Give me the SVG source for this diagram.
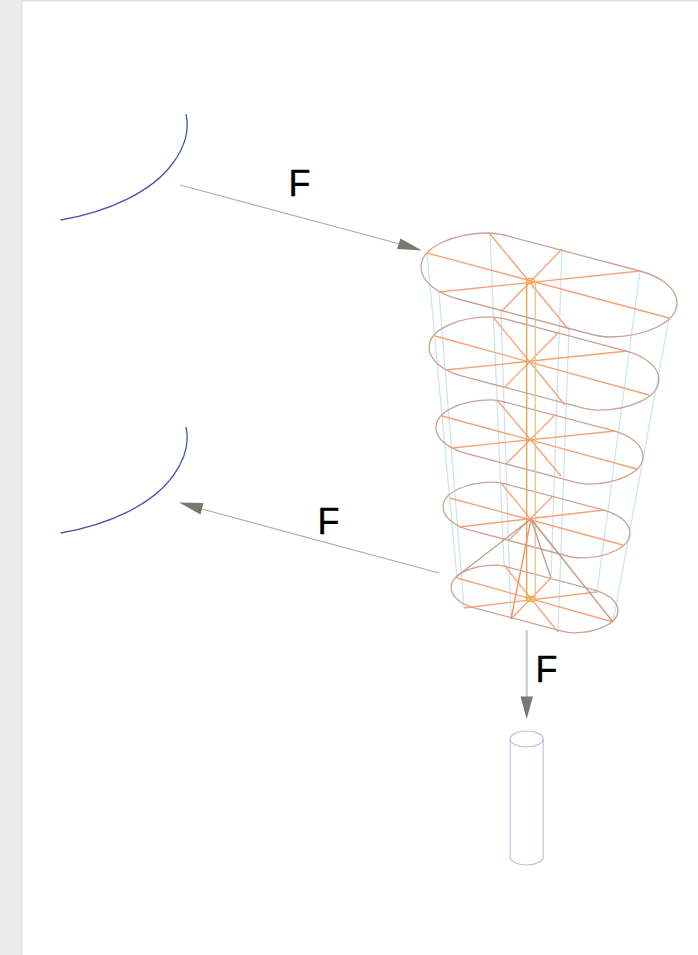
<svg xmlns="http://www.w3.org/2000/svg" width="698" height="955" viewBox="0 0 698 955">
<style>
.outline{fill:none;stroke:#c9a398;stroke-width:1.300;vector-effect:non-scaling-stroke}
.spoke{fill:none;stroke:#f7a274;stroke-width:1.300}
.strut{fill:none;stroke:#cfe5e9;stroke-width:1.300}
.pyr{fill:none;stroke:#c39a8e;stroke-width:1.300}
.post{fill:none;stroke-width:1.300}
.wire{fill:none;stroke:#4a55b0;stroke-width:1.300}
.cyl{fill:none;stroke:#c3bfe8;stroke-width:1.200}
.conn{fill:none;stroke:#adadad;stroke-width:1.200}
.head{fill:#77796e}
.lbl{font-family:"Liberation Sans",Arial,sans-serif;font-size:36px;fill:#000;stroke:#000;stroke-width:.4}
</style>
<defs>
<path id="stadium" class="outline" d="M-45,-50 L91,-14 C113,-8 128,4 128,18 C128,38 95,52 60,52 C55,52 50,51 45,50 L-91,14 C-113,8 -128,-4 -128,-18 C-128,-38 -95,-52 -60,-52 C-55,-52 -50,-51 -45,-50 Z"/>
<path id="arc" class="wire" d="M186,114 C190,132 184,148 173,163 C152,192 108,212 60.500,220"/>
</defs>
<g id="background">
<rect width="698" height="955" fill="#fff"/>
<rect width="21" height="955" fill="#ebebeb"/>
<rect x="21" width="1.500" height="955" fill="#dedede"/>
<rect x="21" width="677" height="1.500" fill="#e2e2e2"/>
</g>
<g id="struts">
<path class="strut" d="M427,253L457,578M439,292L464,608M490,234L504,565M501,312L511,619M569,330L558,632M562,249L551,578M640,271L597,592M669,318L613,622"/>
</g>
<g id="level-1">
<use href="#stadium" transform="translate(549,285)"/>
<path class="spoke" d="M427,253L669,318M439,292L640,271M490,234L569,330M562,249L501,312"/>
</g>
<g id="level-2">
<use href="#stadium" transform="translate(544,363.500) scale(.898)"/>
<path class="spoke" d="M435,336L649,395M446,370L627,351M493,317L565,405M559,332L504,388"/>
</g>
<g id="level-3">
<use href="#stadium" transform="translate(539.500,442) scale(.809)"/>
<path class="spoke" d="M442,416L637,469M452,448L615,431M497,400L561,476M556,414L506,464"/>
</g>
<g id="level-4">
<use href="#stadium" transform="translate(536.500,520) scale(.73)"/>
<path class="spoke" d="M450,498L623,545M459,527L604,510M501,483L560,555M553,496L509,540"/>
</g>
<g id="level-5">
<use href="#stadium" transform="translate(534.500,599) scale(.652)"/>
<path class="spoke" d="M457,578L613,622M464,608L597,592M504,565L558,632M551,578L511,619"/>
</g>
<g id="core">
<path class="post" stroke="#e0a44a" d="M526.700,281V599"/>
<path class="post" stroke="#e8c48c" d="M535.300,281V599"/>
<ellipse cx="530.500" cy="281" rx="4" ry="2.500" fill="none" stroke="#f0b030" stroke-width="1.300"/>
<ellipse cx="531" cy="599" rx="4" ry="2.500" fill="none" stroke="#f0b030" stroke-width="1.300"/>
<path class="pyr" d="M456,577L531,519L613,622M531,519L551,578"/>
<path fill="none" stroke="#f09060" stroke-width="1.300" d="M531,519L511,619"/>
</g>
<g id="bearing-upper"><use href="#arc"/></g>
<g id="bearing-lower"><use href="#arc" transform="translate(0,313)"/></g>
<g id="cylinder">
<ellipse class="cyl" cx="526.700" cy="739" rx="16.500" ry="8"/>
<path class="cyl" d="M510.200,739V857C510.200,861 517,865 526.700,865C536,865 543.200,861 543.200,857V739"/>
</g>
<g id="connectors">
<path class="conn" d="M180,185L400,244"/>
<polygon class="head" points="422,250.500 397,249 400.500,238.500"/>
<path class="conn" d="M439,573L202,509"/>
<polygon class="head" points="179,502.500 203.500,503 200.500,514.500"/>
<path class="conn" style="stroke:#c4c4c4;stroke-width:2" d="M526.700,630V697"/>
<polygon class="head" points="526.700,719 520.500,696.500 533,696.500"/>
</g>
<g id="labels">
<text class="lbl" x="288.500" y="196">F</text>
<text class="lbl" x="317.500" y="534">F</text>
<text class="lbl" x="535.500" y="682">F</text>
</g>
</svg>
